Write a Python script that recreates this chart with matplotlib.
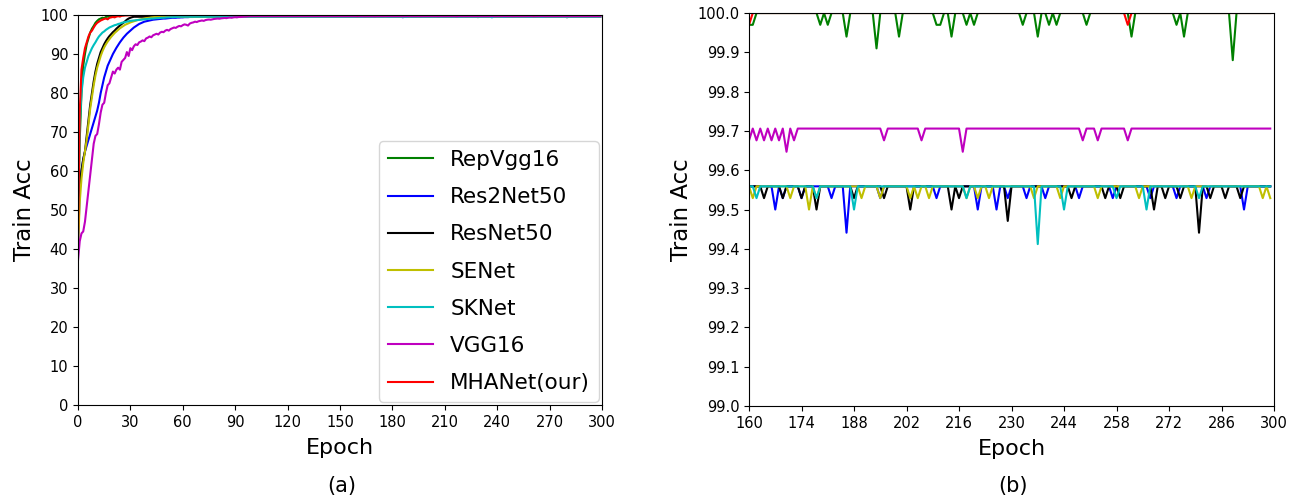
import numpy as np
import matplotlib
matplotlib.use("Agg")
import matplotlib.pyplot as plt
from matplotlib.ticker import FormatStrFormatter

# ---------------------------------------------------------------- data
n_epochs = 300
model_names = ["RepVgg16", "Res2Net50", "ResNet50", "SENet", "SKNet", "VGG16", "MHANet(our)"]
model_colors = ["g", "b", "k", "y", "c", "m", "r"]

# training accuracy during the first epochs (one value per epoch from epoch 0)
repvgg_early = [45, 68, 80, 87, 90, 92.5, 94, 95.5, 96.5, 97.2, 98, 98.5, 98.9, 99.1, 99.3,
                99.2, 99.5, 99.6, 99.5, 99.7, 99.8, 99.8, 99.9, 99.85, 99.94, 99.97, 99.97]
res2net_early = [40, 55, 60, 63, 65, 66.5, 68, 69.5, 71, 72.5, 74, 75.5, 77.5, 80, 82, 84, 85.5,
                 87, 88, 89, 90, 90.8, 91.6, 92.3, 93, 93.6, 94.2, 94.7, 95.2, 95.6, 96, 96.4,
                 96.8, 97.1, 97.4, 97.7, 97.9, 98.1, 98.3, 98.4, 98.5, 98.6, 98.7, 98.8, 98.85,
                 98.9, 98.95, 99.0, 99.05, 99.1, 99.1, 99.15, 99.2, 99.25, 99.3, 99.3, 99.3,
                 99.35, 99.35, 99.4, 99.4, 99.45, 99.45, 99.45, 99.5, 99.5, 99.5, 99.53, 99.53,
                 99.53]
resnet_early = [48, 56, 60, 63, 65, 69, 73, 77, 80, 83, 85.5, 87.5, 89, 90.5, 91.5, 92.5, 93.3,
                94, 94.6, 95.1, 95.6, 96, 96.5, 96.9, 97.3, 97.7, 98, 98.4, 98.8, 99.1, 99.3,
                99.45]
senet_early = [40, 52, 58, 62, 65, 68, 72, 76, 79, 82, 84.5, 86.5, 88, 89.5, 90.7, 91.7, 92.5,
               93.2, 93.8, 94.4, 94.9, 95.4, 95.8, 96.2, 96.6, 96.9, 97.2, 97.5, 97.7, 97.9,
               98.1, 98.25, 98.4, 98.55, 98.7, 98.8, 98.9, 99.0, 99.1, 99.2, 99.25, 99.3, 99.4,
               99.45, 99.5, 99.5]
sknet_early = [50, 72, 80, 84, 86.5, 88, 89.5, 90.5, 91.5, 92.3, 93, 93.8, 94.5, 95, 95.5, 95.8,
               96.2, 96.5, 96.8, 97, 97.2, 97.4, 97.5, 97.7, 97.8, 98, 98.1, 98.2, 98.3, 98.4,
               98.5, 98.55, 98.6, 98.65, 98.7, 98.75, 98.8, 98.85, 98.9, 98.95, 99.0, 99.05,
               99.1, 99.1, 99.15, 99.2, 99.2, 99.25, 99.3, 99.3, 99.35, 99.4, 99.4, 99.45, 99.45,
               99.5, 99.5, 99.53]
vgg_early = [37, 42, 44, 44.5, 47, 51, 55, 59, 63, 67, 69, 69.5, 72, 75, 77, 77.5, 80, 82, 82.5,
             84, 85.5, 85, 86, 86.5, 86, 88, 88.5, 89, 90.5, 89.5, 91.5, 91, 92, 92.5, 92.3, 93,
             93.2, 93.5, 93.3, 94, 94.2, 94.5, 94.3, 94.8, 95, 95.2, 95, 95.5, 95.7, 95.6, 96,
             96.2, 96, 96.4, 96.6, 96.8, 96.7, 97, 97.2, 97.1, 97.4, 97.6, 97.5, 97.3, 97.8, 98,
             98.1, 98.3, 98.2, 98.4, 98.5, 98.6, 98.5, 98.7, 98.8, 98.85, 98.8, 98.9, 99, 99.05,
             99.1, 99.05, 99.15, 99.2, 99.25, 99.2, 99.3, 99.35, 99.3, 99.4, 99.45, 99.4, 99.5,
             99.5, 99.55, 99.6, 99.6, 99.65, 99.68, 99.7]
mhanet_early = [42, 75, 86, 89, 91.5, 93, 94.5, 95.5, 96, 96.8, 97.5, 98, 98.3, 98.6, 98.8, 99.0,
                99.1, 98.9, 99.3, 99.4, 99.5, 99.4, 99.6, 99.7, 99.6, 99.8, 99.85, 99.9, 99.9,
                99.94, 99.97]

# converged accuracy level of each model
repvgg_plateau = 100.0
res2net_plateau = 99.559
resnet_plateau = 99.559
senet_plateau = 99.559
sknet_plateau = 99.559
vgg_plateau = 99.706
mhanet_plateau = 100.0

# epochs (after convergence) where the accuracy drops below the plateau
repvgg_dips = {160: 99.97, 161: 99.97, 179: 99.97, 181: 99.97, 186: 99.94, 194: 99.91,
               200: 99.94, 210: 99.97, 211: 99.97, 214: 99.94, 218: 99.97, 220: 99.97,
               233: 99.97, 237: 99.94, 240: 99.97, 242: 99.97, 250: 99.97, 262: 99.94,
               274: 99.97, 276: 99.94, 289: 99.88}
res2net_dips = {167: 99.50, 169: 99.529, 174: 99.529, 182: 99.529, 186: 99.441, 195: 99.529,
                210: 99.529, 221: 99.50, 226: 99.50, 229: 99.529, 234: 99.529, 239: 99.529,
                248: 99.529, 257: 99.529, 267: 99.529, 274: 99.529, 282: 99.529, 292: 99.50}
resnet_dips = {164: 99.529, 169: 99.529, 174: 99.529, 178: 99.50, 188: 99.529, 196: 99.529,
               203: 99.50, 214: 99.50, 216: 99.529, 229: 99.471, 246: 99.529, 255: 99.529,
               259: 99.529, 268: 99.50, 271: 99.529, 275: 99.529, 280: 99.441, 283: 99.529,
               287: 99.529, 291: 99.529}
senet_dips = {161: 99.529, 171: 99.529, 176: 99.50, 178: 99.529, 190: 99.529, 195: 99.529,
              203: 99.529, 205: 99.529, 208: 99.529, 218: 99.529, 221: 99.529, 224: 99.529,
              236: 99.529, 243: 99.529, 253: 99.529, 264: 99.529, 278: 99.529, 297: 99.529,
              299: 99.529}
sknet_dips = {162: 99.529, 178: 99.529, 188: 99.50, 218: 99.529, 237: 99.412, 244: 99.50,
              258: 99.529, 266: 99.50, 280: 99.529}
vgg_dips = {160: 99.676, 162: 99.676, 164: 99.676, 166: 99.676, 168: 99.676, 170: 99.647,
            172: 99.676, 196: 99.676, 206: 99.676, 217: 99.647, 249: 99.676, 253: 99.676,
            261: 99.676}
mhanet_dips = {160: 99.97, 261: 99.97}

early_values = [repvgg_early, res2net_early, resnet_early, senet_early, sknet_early,
                vgg_early, mhanet_early]
plateaus = [repvgg_plateau, res2net_plateau, resnet_plateau, senet_plateau, sknet_plateau,
            vgg_plateau, mhanet_plateau]
dips = [repvgg_dips, res2net_dips, resnet_dips, senet_dips, sknet_dips, vgg_dips, mhanet_dips]

# ---------------------------------------------------------------- curves
epochs = np.arange(n_epochs)
curves = []
for early, plateau, dip in zip(early_values, plateaus, dips):
    acc = np.full(n_epochs, plateau, dtype=float)
    acc[:len(early)] = early
    for ep, val in dip.items():
        acc[ep] = val
    curves.append(acc)

# ---------------------------------------------------------------- figure
fig = plt.figure(figsize=(13.04, 5.01), dpi=100)
ax_a = fig.add_axes([0.0598, 0.1916, 0.4018, 0.7784])
ax_b = fig.add_axes([0.5744, 0.1896, 0.4026, 0.7844])

for acc, name, color in zip(curves, model_names, model_colors):
    ax_a.plot(epochs, acc, color=color, lw=1.5, label=name)
    ax_b.plot(epochs, acc, color=color, lw=1.5, label=name)

ax_a.set_xlim(0, 300)
ax_a.set_ylim(0, 100)
ax_a.set_xticks(np.arange(0, 301, 30))
ax_a.set_yticks(np.arange(0, 101, 10))

ax_b.set_xlim(160, 300)
ax_b.set_ylim(99.0, 100.0)
ax_b.set_xticks(np.arange(160, 301, 14))
ax_b.set_yticks(np.round(np.arange(99.0, 100.01, 0.1), 1))
ax_b.yaxis.set_major_formatter(FormatStrFormatter("%.1f"))

for ax in (ax_a, ax_b):
    ax.tick_params(labelsize=10.5)
    ax.set_xlabel("Epoch", fontsize=16, labelpad=6)
    ax.set_ylabel("Train Acc", fontsize=16.5, labelpad=3)

ax_a.legend(loc="lower right", fontsize=15.5, borderaxespad=0.15, handlelength=2.1,
            labelspacing=0.8, handletextpad=0.8)

fig.text(0.262, 0.018, "(a)", fontsize=15, ha="center")
fig.text(0.777, 0.018, "(b)", fontsize=15, ha="center")

fig.savefig("out.png", dpi=100)
